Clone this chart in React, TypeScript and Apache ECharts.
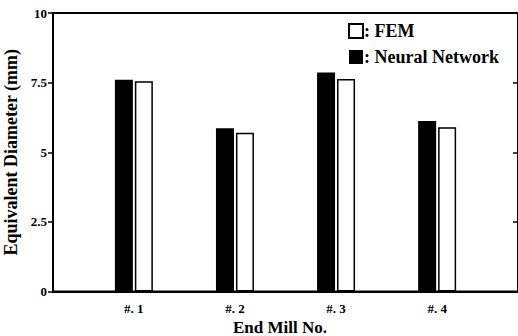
import React, { useEffect, useRef } from "react";
import * as echarts from "echarts";

const categories = ["#. 1", "#. 2", "#. 3", "#. 4"];
const categoryPositions = [1, 2, 3, 4];
const neuralNetwork = [7.6, 5.86, 7.86, 6.12];
const fem = [7.55, 5.7, 7.63, 5.9];
const yTicks = [0, 2.5, 5, 7.5, 10];

const FONT = "'Liberation Serif', 'Times New Roman', serif";

export default function App() {
  const ref = useRef<HTMLDivElement>(null);

  useEffect(() => {
    if (!ref.current) return;
    const chart = echarts.init(ref.current, undefined, { renderer: "svg" });
    const option: any = {
      animation: false,
      backgroundColor: "#ffffff",
      grid: {
        left: 53,
        right: 0,
        top: 13,
        bottom: 44.5,
        containLabel: false,
        outerBoundsMode: "none",
        show: true,
        borderColor: "#000",
        borderWidth: 2,
        backgroundColor: "transparent",
      },
      legend: {
        orient: "vertical",
        left: 348,
        top: 22,
        padding: 0,
        itemWidth: 14,
        itemHeight: 14,
        itemGap: 8,
        icon: "rect",
        formatter: (name: string) => ": " + name,
        textStyle: {
          fontFamily: FONT,
          fontWeight: "bold",
          fontSize: 18,
          color: "#000",
          padding: [0, 0, 0, -4],
        },
        data: [
          {
            name: "FEM",
            itemStyle: { color: "#fff", borderColor: "#000", borderWidth: 2 },
          },
          { name: "Neural Network", itemStyle: { color: "#000" } },
        ],
      },
      xAxis: {
        type: "value",
        min: 0.2,
        max: 4.8,
        name: "End Mill No.",
        nameLocation: "middle",
        nameGap: 24,
        nameTextStyle: {
          fontFamily: FONT,
          fontWeight: "bold",
          fontSize: 17,
          color: "#000",
          padding: [0, 11, 0, 0],
        },
        axisLine: { show: true, lineStyle: { color: "#000", width: 2 } },
        axisTick: { show: false },
        splitLine: { show: false },
        axisLabel: {
          customValues: categoryPositions,
          formatter: (v: number) => categories[Math.round(v) - 1] ?? "",
          fontFamily: FONT,
          fontWeight: "bold",
          fontSize: 13,
          color: "#000",
          margin: 10,
        },
      },
      yAxis: [
        {
          type: "value",
          min: 0,
          max: 10,
          interval: 2.5,
          position: "left",
          name: "Equivalent Diameter (mm)",
          nameLocation: "middle",
          nameGap: 33,
          nameTextStyle: {
            fontFamily: FONT,
            fontWeight: "bold",
            fontSize: 18,
            color: "#000",
          },
          axisLine: { show: true, lineStyle: { color: "#000", width: 2 } },
          axisTick: {
            show: true,
            inside: false,
            length: 5,
            lineStyle: { color: "#000", width: 1.5 },
            customValues: yTicks,
          },
          splitLine: { show: false },
          axisLabel: {
            fontFamily: FONT,
            fontWeight: "bold",
            fontSize: 13,
            color: "#000",
            margin: 6,
          },
        },
        {
          type: "value",
          min: 0,
          max: 10,
          interval: 2.5,
          position: "right",
          axisLine: { show: true, lineStyle: { color: "#000", width: 2 } },
          axisTick: {
            show: true,
            inside: true,
            length: 5,
            lineStyle: { color: "#000", width: 1.5 },
          },
          axisLabel: { show: false },
          splitLine: { show: false },
        },
      ],
      series: [
        {
          name: "Neural Network",
          type: "bar",
          barWidth: 18,
          barGap: "11%",
          data: categoryPositions.map((x, i) => [x, neuralNetwork[i]]),
          itemStyle: { color: "#000", borderColor: "#000", borderWidth: 0 },
        },
        {
          name: "FEM",
          type: "bar",
          barWidth: 18,
          barGap: "11%",
          data: categoryPositions.map((x, i) => [x, fem[i]]),
          itemStyle: { color: "#fff", borderColor: "#000", borderWidth: 1.5 },
        },
      ],
    };
    chart.setOption(option);
    return () => chart.dispose();
  }, []);

  return (
    <div
      ref={ref}
      style={{ position: "absolute", left: 0, top: 0, width: 518, height: 336 }}
    />
  );
}
